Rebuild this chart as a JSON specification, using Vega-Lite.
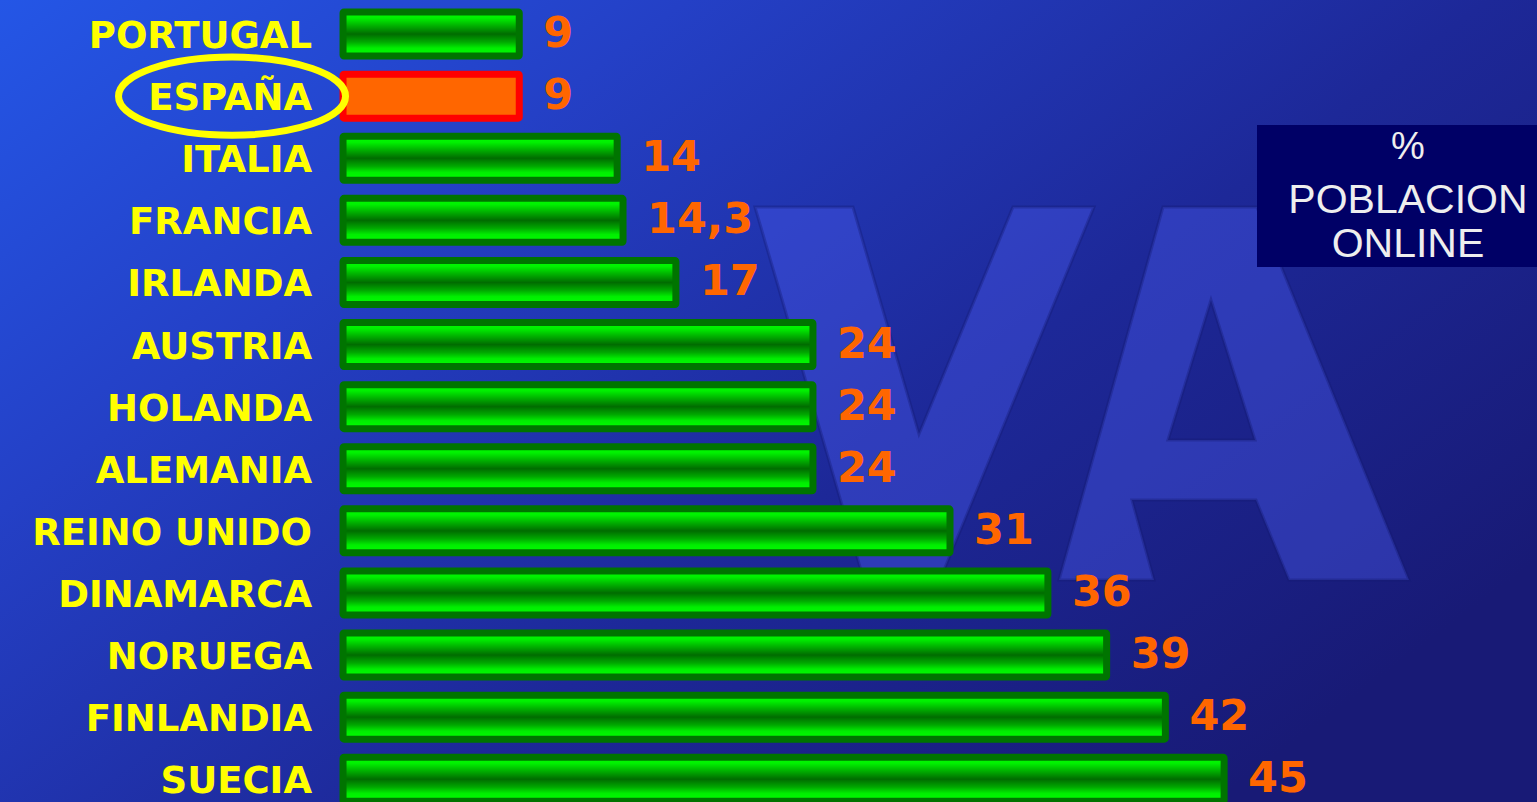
{
  "$schema": "https://vega.github.io/schema/vega-lite/v6.json",
  "width": 1537,
  "height": 802,
  "autosize": "none",
  "padding": 0,
  "background": "#1f2c9c",
  "view": {
    "stroke": null,
    "fill": {
      "gradient": "linear",
      "x1": 0, "y1": 0, "x2": 1, "y2": 0.7,
      "stops": [
        {"offset": 0, "color": "#2456e6"},
        {"offset": 0.3, "color": "#2440c6"},
        {"offset": 0.65, "color": "#1d2898"},
        {"offset": 1, "color": "#181a76"}
      ]
    }
  },
  "datasets": {
    "paises": [
      {"pais": "PORTUGAL", "valor": 9, "etiqueta": "9"},
      {"pais": "ESPAÑA", "valor": 9, "etiqueta": "9"},
      {"pais": "ITALIA", "valor": 14, "etiqueta": "14"},
      {"pais": "FRANCIA", "valor": 14.3, "etiqueta": "14,3"},
      {"pais": "IRLANDA", "valor": 17, "etiqueta": "17"},
      {"pais": "AUSTRIA", "valor": 24, "etiqueta": "24"},
      {"pais": "HOLANDA", "valor": 24, "etiqueta": "24"},
      {"pais": "ALEMANIA", "valor": 24, "etiqueta": "24"},
      {"pais": "REINO UNIDO", "valor": 31, "etiqueta": "31"},
      {"pais": "DINAMARCA", "valor": 36, "etiqueta": "36"},
      {"pais": "NORUEGA", "valor": 39, "etiqueta": "39"},
      {"pais": "FINLANDIA", "valor": 42, "etiqueta": "42"},
      {"pais": "SUECIA", "valor": 45, "etiqueta": "45"}
    ],
    "uno": [{"item": 1}]
  },
  "data": {"name": "paises"},
  "encoding": {
    "y": {
      "field": "pais",
      "type": "nominal",
      "sort": null,
      "axis": null,
      "scale": {
        "domain": ["PORTUGAL", "ESPAÑA", "ITALIA", "FRANCIA", "IRLANDA", "AUSTRIA", "HOLANDA", "ALEMANIA", "REINO UNIDO", "DINAMARCA", "NORUEGA", "FINLANDIA", "SUECIA"],
        "range": [3, 810.3],
        "paddingInner": 0.2915,
        "paddingOuter": 0.1458
      }
    }
  },
  "layer": [
    {
      "data": {"name": "uno"},
      "mark": {
        "type": "point",
        "shape": "M -0.8175 -0.499 L -0.5725 -0.499 L -0.4075 0.0685 L -0.1725 -0.499 L 0.03 -0.499 L -0.345 0.4085 L -0.5525 0.4085 Z M -0.0575 0.4335 L 0.2025 -0.499 L 0.4375 -0.499 L 0.8175 0.4335 L 0.5175 0.4335 L 0.435 0.2335 L 0.125 0.2335 L 0.18 0.4335 Z M 0.3225 -0.2665 L 0.215 0.0835 L 0.4325 0.0835 Z",
        "size": 640000,
        "filled": true,
        "fill": "#4a5cf0",
        "fillOpacity": 0.4,
        "stroke": "#141a70",
        "strokeOpacity": 0.35,
        "strokeWidth": 3
      },
      "encoding": {
        "x": {"datum": 37.74, "type": "quantitative", "scale": {"domain": [-17.52, 60.98], "nice": false, "zero": false}, "axis": null},
        "y": {"datum": "HOLANDA"}
      }
    },
    {
      "mark": {"type": "bar", "strokeWidth": 7, "strokeJoin": "round", "cornerRadius": 1},
      "encoding": {
        "x": {"field": "valor", "type": "quantitative", "scale": {"domain": [-17.52, 60.98], "nice": false, "zero": false}, "axis": null},
        "x2": {"datum": 0},
        "fill": {
          "condition": {"test": "datum.pais === 'ESPAÑA'", "value": "#ff6600"},
          "value": {
            "gradient": "linear",
            "x1": 0, "y1": 0, "x2": 0, "y2": 1,
            "stops": [
              {"offset": 0, "color": "#00ff00"},
              {"offset": 0.14, "color": "#00f000"},
              {"offset": 0.3, "color": "#00b400"},
              {"offset": 0.5, "color": "#006c00"},
              {"offset": 0.68, "color": "#00a800"},
              {"offset": 0.82, "color": "#00ee00"},
              {"offset": 1, "color": "#00ff00"}
            ]
          }
        },
        "stroke": {
          "condition": {"test": "datum.pais === 'ESPAÑA'", "value": "#ff0000"},
          "value": "#007400"
        }
      }
    },
    {
      "mark": {"type": "text", "align": "right", "baseline": "middle", "dx": -31, "dy": 3, "font": "DejaVu Sans", "fontWeight": "bold", "fontSize": 37, "fill": "#ffff00"},
      "encoding": {
        "x": {"datum": 0, "type": "quantitative"},
        "text": {"field": "pais"}
      }
    },
    {
      "mark": {"type": "text", "align": "left", "baseline": "middle", "dx": 24, "dy": 0, "font": "DejaVu Sans", "fontWeight": "bold", "fontSize": 43, "fill": "#ff6600"},
      "encoding": {
        "x": {"field": "valor", "type": "quantitative"},
        "text": {"field": "etiqueta"}
      }
    },
    {
      "data": {"name": "uno"},
      "mark": {"type": "point", "shape": "M -1 0 A 1 0.344 0 1 1 1 0 A 1 0.344 0 1 1 -1 0 Z", "size": 51529, "filled": false, "stroke": "#ffff00", "strokeWidth": 7, "opacity": 1},
      "encoding": {
        "x": {"datum": -5.67, "type": "quantitative"},
        "y": {"datum": "ESPAÑA"}
      }
    },
    {
      "data": {"name": "uno"},
      "mark": {"type": "rect", "fill": "#000066"},
      "encoding": {
        "x": {"datum": 46.68, "type": "quantitative"},
        "x2": {"datum": 60.98},
        "y": {"datum": "ITALIA", "bandPosition": -0.256},
        "y2": {"datum": "IRLANDA", "bandPosition": 0.149}
      }
    },
    {
      "data": {"name": "uno"},
      "mark": {"type": "text", "text": "%", "align": "center", "baseline": "middle", "dy": -10, "font": "Liberation Sans", "fontSize": 38, "fill": "#eeeeee"},
      "encoding": {
        "x": {"datum": 54.39, "type": "quantitative"},
        "y": {"datum": "ITALIA"}
      }
    },
    {
      "data": {"name": "uno"},
      "mark": {"type": "text", "text": ["POBLACION", "ONLINE"], "lineHeight": 44, "align": "center", "baseline": "middle", "dy": -19, "font": "Liberation Sans", "fontSize": 41, "fill": "#eeeeee"},
      "encoding": {
        "x": {"datum": 54.39, "type": "quantitative"},
        "y": {"datum": "FRANCIA"}
      }
    }
  ]
}
